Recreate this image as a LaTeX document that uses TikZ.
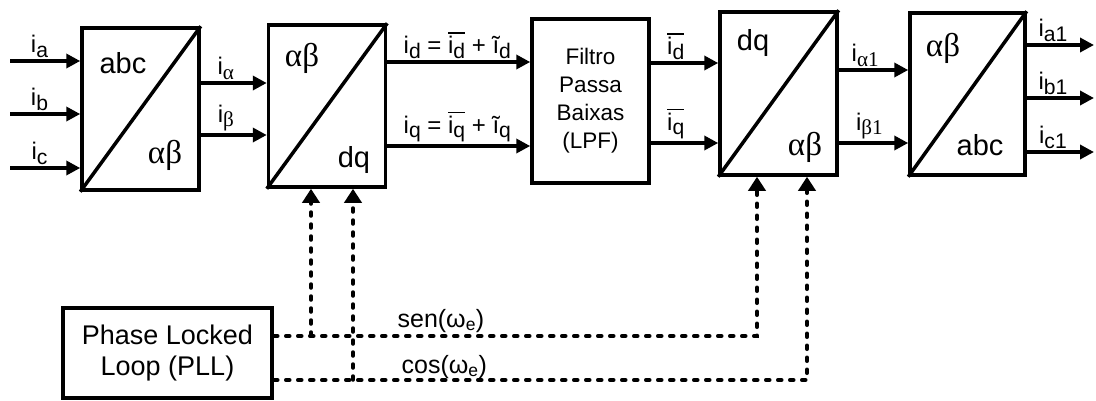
\documentclass[tikz,border=0pt]{standalone}
\usepackage{fontspec}
\usepackage{graphicx}
\setmainfont{Liberation Sans}
\newfontfamily\grk{Liberation Serif}
\usetikzlibrary{arrows.meta, positioning, calc}

\newcommand{\ovl}[1]{\leavevmode\vbox{\hrule height 1.6pt\kern 2.5pt\hbox{#1}}}
\newcommand{\sbs}[1]{\raisebox{-4.5pt}{\scalebox{0.88}{#1}}}

\tikzset{
  blk/.style={draw, line width=3.5pt, minimum width=117pt, minimum height=162pt, inner sep=0pt},
  sig/.style={line width=3.5pt, -{Triangle[length=14pt,width=14pt]}},
  ctl/.style={line width=3.5pt, line cap=round, dash pattern=on 4pt off 8pt, -{Triangle[length=14pt,width=17pt]}},
  lbl/.style={font=\fontsize{24}{28}\selectfont, inner sep=2pt},
  tag/.style={font=\fontsize{29}{32}\selectfont, inner sep=0pt},
  gtag/.style={font=\grk\fontsize{33}{36}\selectfont, inner sep=0pt},
  ang/.style={font=\fontsize{25}{28}\selectfont, inner sep=2pt},
}

\begin{document}
\begin{tikzpicture}[x=1pt, y=-1pt]
    \useasboundingbox (0,0) rectangle (1096,400);

    % Blocos
    \node[blk] (abc2ab) at (140.5,109) {};
    \node[blk] (ab2dq) at (327,106) {};
    \node[blk, minimum height=164pt, align=center, font=\fontsize{22.5}{28}\selectfont] (lpf) at (590.5,101) {Filtro\\Passa\\Baixas\\(LPF)};
    \node[blk, minimum height=163pt] (dq2ab) at (778.5,93.5) {};
    \node[blk, minimum width=115pt] (ab2abc) at (967.5,94) {};
    \node[blk, minimum width=209pt, minimum height=90pt, align=center, font=\fontsize{27}{31}\selectfont] (pll) at (167.5,353) {Phase Locked\\Loop (PLL)};

    % Diagonais
    \foreach \b in {abc2ab, ab2dq, dq2ab, ab2abc}
        \draw[line width=3.5pt] (\b.south west) -- (\b.north east);

    % Textos dos blocos
    \node[tag] (t1a) at (123,63) {abc};
    \node[gtag] (t1b) at (165,155) {αβ};
    \node[gtag] (t2a) at (302,58) {αβ};
    \node[tag] (t2b) at (354,160) {dq};
    \node[tag] (t4a) at (753,43) {dq};
    \node[gtag] (t4b) at (805,147) {αβ};
    \node[gtag] (t5a) at (943,48) {αβ};
    \node[tag] (t5b) at (980,145) {abc};

    % Entradas
    \coordinate (ia) at (10,61);
    \coordinate (ib) at (10,114);
    \coordinate (ic) at (10,168);
    \draw[sig] (ia) -- (ia -| abc2ab.west) node[lbl, above, pos=0.42] (lia) {i\sbs{a}};
    \draw[sig] (ib) -- (ib -| abc2ab.west) node[lbl, above, pos=0.42] (lib) {i\sbs{b}};
    \draw[sig] (ic) -- (ic -| abc2ab.west) node[lbl, above, pos=0.42] (lic) {i\sbs{c}};

    % abc -> alfa beta
    \draw[sig] ([yshift=26pt]abc2ab.east) -- ([yshift=26pt]abc2ab.east -| ab2dq.west)
        node[lbl, above, pos=0.38] (lial) {i\sbs{\grk α}};
    \draw[sig] ([yshift=-26pt]abc2ab.east) -- ([yshift=-26pt]abc2ab.east -| ab2dq.west)
        node[lbl, above, pos=0.38] (libe) {i\sbs{\grk β}};

    % alfa beta -> dq
    \draw[sig] ([yshift=44pt]ab2dq.east) -- ([yshift=44pt]ab2dq.east -| lpf.west)
        node[lbl, above, pos=0.49] (lid) {i\sbs{d} = \ovl{i\sbs{d}} + ĩ\sbs{d}};
    \draw[sig] ([yshift=-40pt]ab2dq.east) -- ([yshift=-40pt]ab2dq.east -| lpf.west)
        node[lbl, above, pos=0.49] (liq) {i\sbs{q} = \ovl{i\sbs{q}} + ĩ\sbs{q}};

    % Filtro
    \draw[sig] ([yshift=38pt]lpf.east) -- ([yshift=38pt]lpf.east -| dq2ab.west)
        node[lbl, above, pos=0.37] (lidm) {\ovl{i\sbs{d}}};
    \draw[sig] ([yshift=-42pt]lpf.east) -- ([yshift=-42pt]lpf.east -| dq2ab.west)
        node[lbl, above, pos=0.37] (liqm) {\ovl{i\sbs{q}}};

    % dq -> alfa beta
    \draw[sig] ([yshift=23.5pt]dq2ab.east) -- ([yshift=23.5pt]dq2ab.east -| ab2abc.west)
        node[lbl, above, pos=0.38] (lial1) {i\sbs{\grk α1}};
    \draw[sig] ([yshift=-49.5pt]dq2ab.east) -- ([yshift=-49.5pt]dq2ab.east -| ab2abc.west)
        node[lbl, above, pos=0.44] (libe1) {i\sbs{\grk β1}};

    % Saidas
    \coordinate (oa) at (1094,45);
    \coordinate (ob) at (1094,98);
    \coordinate (oc) at (1094,152);
    \draw[sig] (oa -| ab2abc.east) -- (oa) node[lbl, above, pos=0.39] (lia1) {i\sbs{a1}};
    \draw[sig] (ob -| ab2abc.east) -- (ob) node[lbl, above, pos=0.39] (lib1) {i\sbs{b1}};
    \draw[sig] (oc -| ab2abc.east) -- (oc) node[lbl, above, pos=0.39] (lic1) {i\sbs{c1}};

    % PLL
    \coordinate (sen) at ([yshift=17pt]pll.east);
    \coordinate (cos) at ([yshift=-27pt]pll.east);
    \coordinate (d1) at ([xshift=-16pt]ab2dq.south);
    \coordinate (d2) at ([xshift=26pt]ab2dq.south);
    \coordinate (d3) at ([xshift=-21.5pt]dq2ab.south);
    \coordinate (d4) at ([xshift=28.5pt]dq2ab.south);
    \draw[ctl] (sen) -| (d3) node[ang, above, pos=0.173] (lsen) {sen(ω\textsubscript{e})};
    \draw[ctl] (cos) -| (d4) node[ang, above, pos=0.16, inner sep=0pt] (lcos) {cos(ω\textsubscript{e})};
    \draw[ctl] (sen -| d1) -- (d1);
    \draw[ctl] (cos -| d2) -- (d2);
\end{tikzpicture}
\end{document}
